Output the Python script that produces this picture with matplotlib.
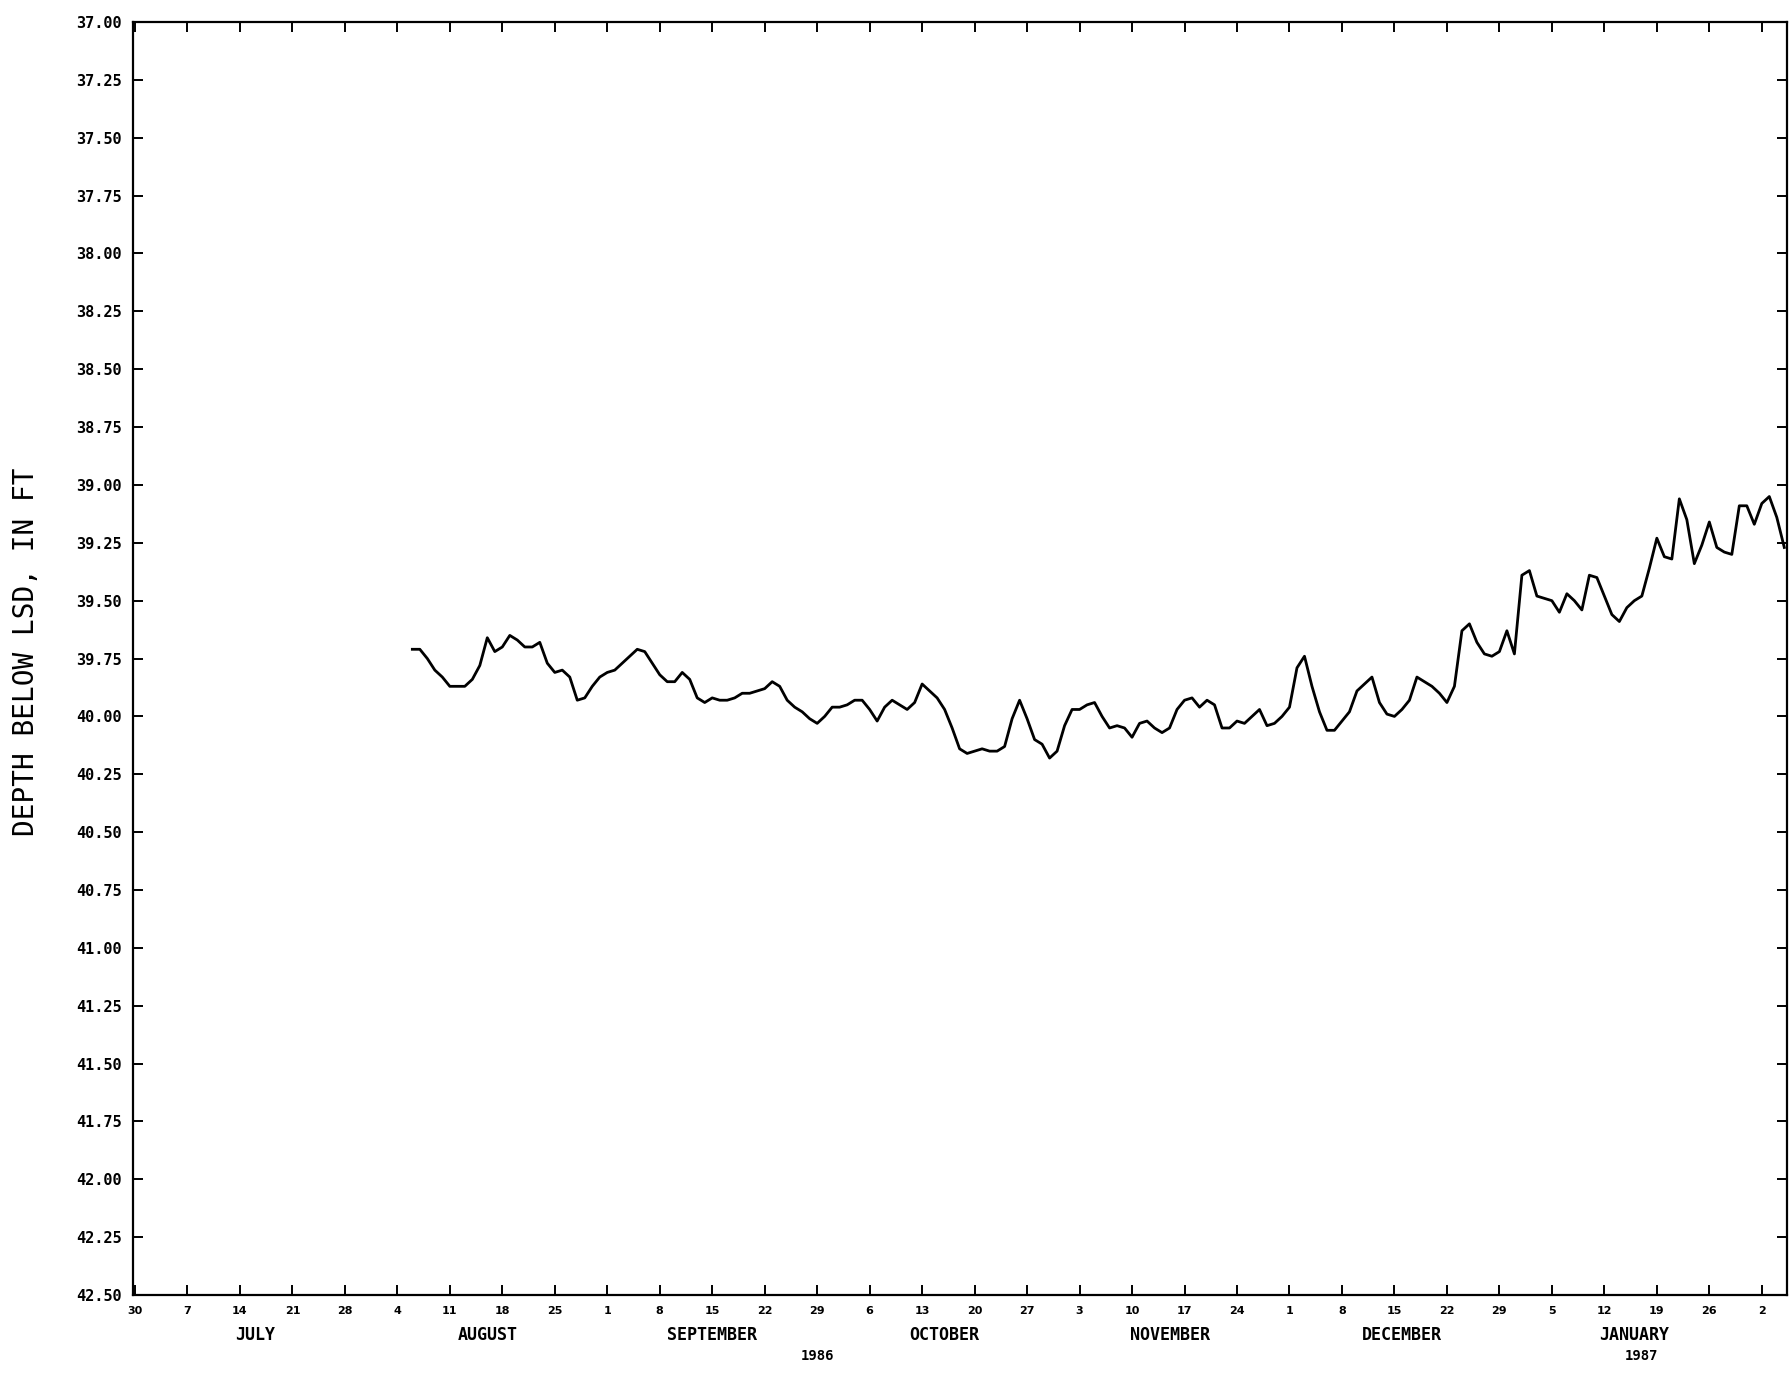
import pandas as pd
import matplotlib.pyplot as plt
import matplotlib.dates as mdates
import matplotlib.transforms as mtransforms

# daily depth to water, 6 Aug 1986 - 5 Feb 1987
start_date = '1986-08-06'
depth_ft = [
    39.71, 39.71, 39.75, 39.80, 39.83, 39.87, 39.87, 39.87, 39.84, 39.78,
    39.66, 39.72, 39.70, 39.65, 39.67, 39.70, 39.70, 39.68, 39.77, 39.81,
    39.80, 39.83, 39.93, 39.92, 39.87, 39.83, 39.81, 39.80, 39.77, 39.74,
    39.71, 39.72, 39.77, 39.82, 39.85, 39.85, 39.81, 39.84, 39.92, 39.94,
    39.92, 39.93, 39.93, 39.92, 39.90, 39.90, 39.89, 39.88, 39.85, 39.87,
    39.93, 39.96, 39.98, 40.01, 40.03, 40.00, 39.96, 39.96, 39.95, 39.93,
    39.93, 39.97, 40.02, 39.96, 39.93, 39.95,
    39.97, 39.94, 39.86, 39.89, 39.92, 39.97, 40.05, 40.14, 40.16, 40.15,
    40.14, 40.15, 40.15, 40.13, 40.01, 39.93, 40.01, 40.10, 40.12, 40.18,
    40.15, 40.04, 39.97, 39.97, 39.95, 39.94, 40.00, 40.05, 40.04, 40.05,
    40.09, 40.03, 40.02, 40.05, 40.07, 40.05, 39.97, 39.93, 39.92, 39.96,
    39.93, 39.95, 40.05, 40.05, 40.02, 40.03, 40.00, 39.97, 40.04, 40.03,
    40.00, 39.96, 39.79, 39.74, 39.87, 39.98, 40.06, 40.06, 40.02, 39.98,
    39.89, 39.86, 39.83, 39.94,
    39.99, 40.00, 39.97, 39.93, 39.83, 39.85, 39.87, 39.90, 39.94, 39.87,
    39.63, 39.60, 39.68, 39.73, 39.74, 39.72, 39.63, 39.73, 39.39, 39.37,
    39.48, 39.49, 39.50, 39.55, 39.47, 39.50, 39.54, 39.39, 39.40, 39.48,
    39.56, 39.59, 39.53, 39.50, 39.48, 39.36, 39.23, 39.31, 39.32, 39.06,
    39.15, 39.34, 39.26, 39.16, 39.27, 39.29, 39.30, 39.09, 39.09, 39.17,
    39.08, 39.05, 39.14, 39.27,
]

# weekly ticks and the month / year captions under them
week_start = '1986-06-30'
n_weeks = 32
months = ['JULY', 'AUGUST', 'SEPTEMBER', 'OCTOBER', 'NOVEMBER', 'DECEMBER', 'JANUARY']
month_mid = ['1986-07-16', '1986-08-16', '1986-09-15', '1986-10-16',
             '1986-11-15', '1986-12-16', '1987-01-16']
years = ['1986', '1987']
year_pos = ['1986-09-29', '1987-01-17']

dates = pd.date_range(start_date, periods=len(depth_ft), freq='D')
weeks = pd.date_range(week_start, periods=n_weeks, freq='7D')

fig = plt.figure(figsize=(17.91, 13.77), dpi=100)
ax = fig.add_axes([0.0743, 0.0595, 0.9237, 0.9245])

ax.plot(dates, depth_ft, color='black', lw=2.0)

ax.set_xlim(pd.Timestamp('1986-06-30') - pd.Timedelta(hours=6),
            pd.Timestamp('1987-02-05') + pd.Timedelta(hours=10))
ax.set_ylim(42.5, 37.0)

yt = [37.0 + 0.25 * i for i in range(23)]
ax.set_yticks(yt)
ax.set_yticklabels([f'{v:.2f}' for v in yt], fontsize=11, fontweight='bold',
                   family='DejaVu Sans Mono')
ax.set_xticks(weeks)
ax.set_xticklabels([str(d.day) for d in weeks], fontsize=8, fontweight='bold')
ax.tick_params(axis='both', direction='in', length=7, width=1.4,
               top=True, right=True, color='black')
ax.tick_params(axis='y', pad=8)
ax.tick_params(axis='x', pad=8)
for s in ax.spines.values():
    s.set_linewidth(1.6)

ax.set_ylabel('DEPTH BELOW LSD, IN FT', family='DejaVu Sans Mono', fontsize=20)
ax.yaxis.set_label_coords(-0.056, 0.505)

trans = mtransforms.blended_transform_factory(ax.transData, ax.transAxes)
for m, d in zip(months, month_mid):
    ax.text(mdates.date2num(pd.Timestamp(d)), -0.031, m, transform=trans,
            ha='center', va='center', fontsize=12, fontweight='bold',
            family='DejaVu Sans Mono')
for y, d in zip(years, year_pos):
    ax.text(mdates.date2num(pd.Timestamp(d)), -0.048, y, transform=trans,
            ha='center', va='center', fontsize=10, fontweight='bold',
            family='DejaVu Sans Mono')

fig.savefig('out.png', dpi=100, facecolor='white')
